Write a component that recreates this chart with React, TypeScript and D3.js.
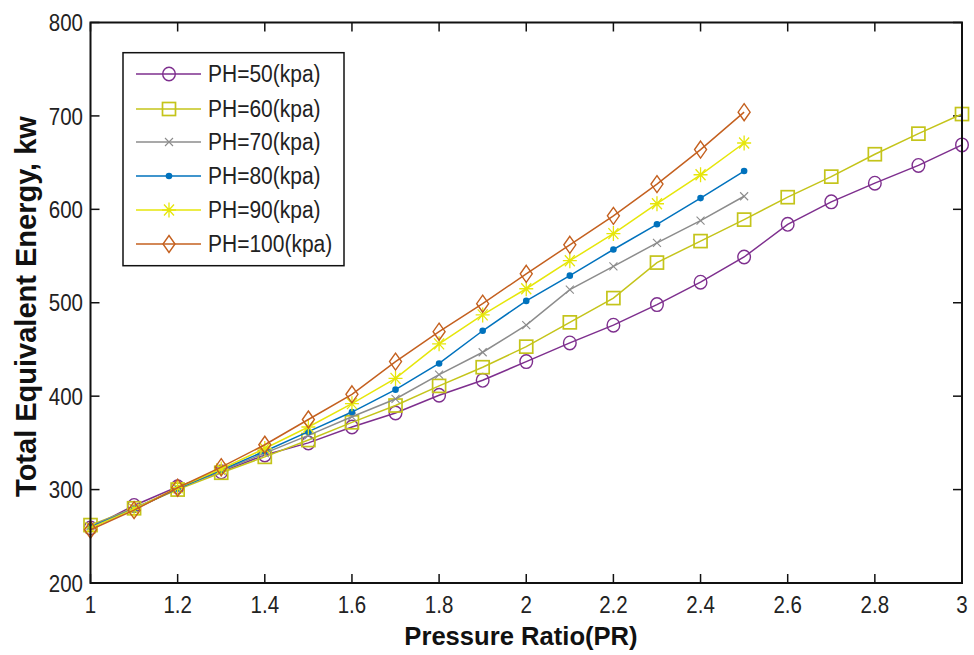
import React from "react";
import * as d3 from "d3";

const prLong = [1.0, 1.1, 1.2, 1.3, 1.4, 1.5, 1.6, 1.7, 1.8, 1.9, 2.0, 2.1, 2.2, 2.3, 2.4, 2.5, 2.6, 2.7, 2.8, 2.9, 3.0];
const prShort = [1.0, 1.1, 1.2, 1.3, 1.4, 1.5, 1.6, 1.7, 1.8, 1.9, 2.0, 2.1, 2.2, 2.3, 2.4, 2.5];

const ph50 = [259, 283, 303, 319, 337, 350, 367, 382, 401, 417, 437, 457, 476, 498, 522, 549, 584, 608, 628, 647, 669];
const ph60 = [262, 280, 300, 318, 335, 353, 372, 390, 411, 431, 453, 479, 505, 543, 566, 589, 613, 635, 659, 681, 702];
const ph70 = [261, 280, 301, 320, 339, 358, 378, 397, 423, 447, 476, 514, 539, 564, 588, 614];
const ph80 = [260, 279, 301, 321, 341, 362, 383, 407, 435, 470, 502, 529, 557, 584, 612, 641];
const ph90 = [259, 279, 302, 322, 344, 367, 392, 419, 456, 487, 515, 545, 574, 606, 637, 671];
const ph100 = [257, 278, 302, 324, 348, 375, 402, 437, 469, 499, 531, 562, 593, 627, 664, 704];

const seriesNames = ["PH=50(kpa)", "PH=60(kpa)", "PH=70(kpa)", "PH=80(kpa)", "PH=90(kpa)", "PH=100(kpa)"];
const xTicks = [1, 1.2, 1.4, 1.6, 1.8, 2, 2.2, 2.4, 2.6, 2.8, 3];
const yTicks = [200, 300, 400, 500, 600, 700, 800];

const series = [
  { name: seriesNames[0], xs: prLong, ys: ph50, color: "#7E2F8E", marker: "circle" },
  { name: seriesNames[1], xs: prLong, ys: ph60, color: "#C4C41A", marker: "square" },
  { name: seriesNames[2], xs: prShort, ys: ph70, color: "#8C8C8C", marker: "x" },
  { name: seriesNames[3], xs: prShort, ys: ph80, color: "#0072BD", marker: "dot" },
  { name: seriesNames[4], xs: prShort, ys: ph90, color: "#E6E60A", marker: "star" },
  { name: seriesNames[5], xs: prShort, ys: ph100, color: "#C4601F", marker: "diamond" },
];

function Marker({ type, x, y, color }: { type: string; x: number; y: number; color: string }) {
  const sw = 1.4;
  switch (type) {
    case "circle":
      return <ellipse cx={x} cy={y} rx={6.3} ry={6.8} fill="none" stroke={color} strokeWidth={sw} />;
    case "square":
      return <rect x={x - 6.5} y={y - 6.5} width={13} height={13} fill="none" stroke={color} strokeWidth={sw + 0.3} />;
    case "x":
      return (
        <path d={`M${x - 4},${y - 4}L${x + 4},${y + 4}M${x - 4},${y + 4}L${x + 4},${y - 4}`} stroke={color} strokeWidth={1.1} fill="none" />
      );
    case "dot":
      return <circle cx={x} cy={y} r={3.3} fill={color} stroke="none" />;
    case "star":
      return (
        <path
          d={`M${x},${y - 7.5}L${x},${y + 7.5}M${x - 7},${y}L${x + 7},${y}M${x - 5},${y - 5.5}L${x + 5},${y + 5.5}M${x - 5},${y + 5.5}L${x + 5},${y - 5.5}`}
          stroke={color}
          strokeWidth={1.3}
          fill="none"
        />
      );
    case "diamond":
      return (
        <path d={`M${x},${y - 8.5}L${x + 6},${y}L${x},${y + 8.5}L${x - 6},${y}Z`} stroke={color} strokeWidth={sw} fill="none" />
      );
    default:
      return null;
  }
}

export default function App() {
  const W = 974;
  const H = 655;
  const left = 90.5, right = 962, top = 22.5, bottom = 583;
  const x = d3.scaleLinear().domain([1, 3]).range([left, right]);
  const y = d3.scaleLinear().domain([200, 800]).range([bottom, top]);
  const line = d3.line<[number, number]>().x((d) => x(d[0])).y((d) => y(d[1]));
  const tickLen = 9;
  const font = "'Liberation Sans', Arial, sans-serif";

  const legX0 = 123, legY0 = 52.7, legX1 = 344, legY1 = 265.7;
  const legRows = [74, 109, 142, 176, 210, 244];

  return (
    <svg width={W} height={H} style={{ position: "absolute", left: 0, top: 0, background: "#fff" }} fontFamily={font}>
      <rect x={0} y={0} width={W} height={H} fill="#fff" />
      {/* ticks */}
      {xTicks.map((t) => (
        <g key={"xt" + t}>
          <line x1={x(t)} x2={x(t)} y1={bottom} y2={bottom - tickLen} stroke="#111" strokeWidth={1.5} />
          <line x1={x(t)} x2={x(t)} y1={top} y2={top + tickLen} stroke="#111" strokeWidth={1.5} />
          <g transform={`translate(${x(t)},604) scale(1,1.18)`}>
            <text textAnchor="middle" dy="0.36em" fontSize={20.5} fill="#222">{String(t)}</text>
          </g>
        </g>
      ))}
      {yTicks.map((t) => (
        <g key={"yt" + t}>
          <line x1={left} x2={left + tickLen} y1={y(t)} y2={y(t)} stroke="#111" strokeWidth={1.5} />
          <line x1={right} x2={right - tickLen} y1={y(t)} y2={y(t)} stroke="#111" strokeWidth={1.5} />
          <g transform={`translate(83,${y(t)}) scale(1,1.18)`}>
            <text textAnchor="end" dy="0.36em" fontSize={20.5} fill="#222">{String(t)}</text>
          </g>
        </g>
      ))}
      {/* series */}
      {series.map((s) => {
        const pts: [number, number][] = s.xs.map((v, i) => [v, s.ys[i]]);
        return (
          <g key={s.name}>
            <path d={line(pts) || ""} fill="none" stroke={s.color} strokeWidth={1.5} />
            {pts.map((p, i) => (
              <Marker key={i} type={s.marker} x={x(p[0])} y={y(p[1])} color={s.color} />
            ))}
          </g>
        );
      })}
      {/* axes box */}
      <rect x={left} y={top} width={right - left} height={bottom - top} fill="none" stroke="#111" strokeWidth={2} />
      {/* legend */}
      <rect x={legX0} y={legY0} width={legX1 - legX0} height={legY1 - legY0} fill="#fff" stroke="#111" strokeWidth={1.5} />
      {series.map((s, i) => (
        <g key={"leg" + s.name}>
          <line x1={136} x2={201} y1={legRows[i]} y2={legRows[i]} stroke={s.color} strokeWidth={1.5} />
          <Marker type={s.marker} x={169} y={legRows[i]} color={s.color} />
          <g transform={`translate(208,${legRows[i]}) scale(1,1.1)`}>
            <text dy="0.36em" fontSize={21} fill="#222">{s.name}</text>
          </g>
        </g>
      ))}
      {/* axis titles */}
      <text x={521} y={645} textAnchor="middle" fontSize={25.6} fontWeight="bold" fill="#111">Pressure Ratio(PR)</text>
      <text
        transform="translate(36,306.5) rotate(-90)"
        textAnchor="middle"
        fontSize={29}
        fontWeight="bold"
        fill="#111"
      >
        Total Equivalent Energy, kw
      </text>
    </svg>
  );
}
